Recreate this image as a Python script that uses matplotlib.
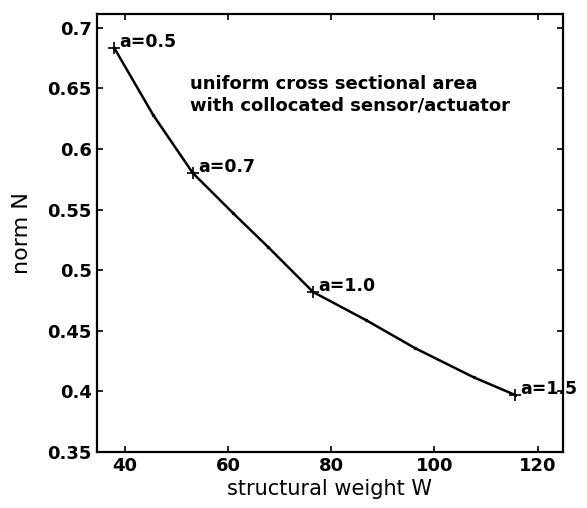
import matplotlib
matplotlib.use('Agg')
import matplotlib.pyplot as plt

# curve points (structural weight W, norm N)
W = [38.0, 45.5, 53.2, 61.0, 67.8, 76.5, 86.8, 96.3, 107.6, 115.7]
N = [0.683, 0.628, 0.580, 0.547, 0.519, 0.482, 0.4587, 0.4356, 0.4117, 0.397]

# labelled points
W_lab = [38.0, 53.2, 76.5, 115.7]
N_lab = [0.683, 0.580, 0.482, 0.397]
labels = ['a=0.5', 'a=0.7', 'a=1.0', 'a=1.5']

plt.rcParams['font.family'] = ['DejaVu Sans']

fig = plt.figure(figsize=(5.87, 5.08), dpi=100)
ax = fig.add_axes([0.165, 0.110, 0.794, 0.862])

ax.plot(W, N, '-', color='black', lw=1.8, marker='.', ms=3)
ax.plot(W_lab, N_lab, '+', color='black', ms=9, mew=1.2)
for w, n, t in zip(W_lab, N_lab, labels):
    ax.text(w + 1.0, n + 0.001, t, fontsize=12.5, fontweight='bold',
            va='baseline', ha='left')

ax.text(52.6, 0.661, 'uniform cross sectional area\nwith collocated sensor/actuator',
        fontsize=13, fontweight='bold', va='top', ha='left', linespacing=1.25)

ax.set_xlim(34.6, 124.9)
ax.set_ylim(0.35, 0.711)
ax.set_xticks([40, 60, 80, 100, 120])
ax.set_yticks([0.35, 0.4, 0.45, 0.5, 0.55, 0.6, 0.65, 0.7])
ax.set_yticklabels(['0.35', '0.4', '0.45', '0.5', '0.55', '0.6', '0.65', '0.7'])
ax.tick_params(direction='in', top=True, right=True, length=4, width=1.2,
               labelsize=13)
for lab in ax.get_xticklabels() + ax.get_yticklabels():
    lab.set_fontweight('bold')
for s in ax.spines.values():
    s.set_linewidth(1.6)

ax.set_xlabel('structural weight W', fontsize=15, labelpad=3)
ax.set_ylabel('norm N', fontsize=16, labelpad=11)

plt.savefig('out.png', dpi=100)
plt.close()
